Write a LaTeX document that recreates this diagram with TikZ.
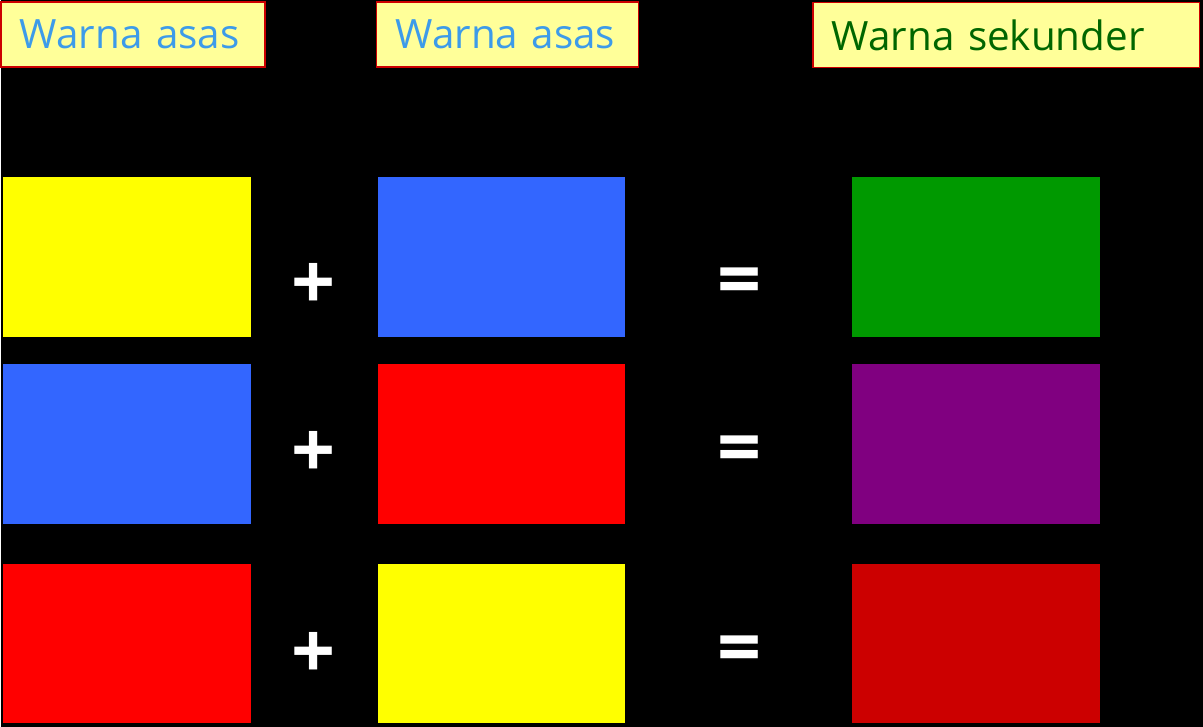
\documentclass[tikz,border=0pt]{standalone}
\usepackage{fontspec}
\setmainfont{Open Sans}
\usepackage{xcolor}
\definecolor{kuning}{HTML}{FFFF00}
\definecolor{biru}{HTML}{3366FF}
\definecolor{merah}{HTML}{FF0000}
\definecolor{hijau}{HTML}{009900}
\definecolor{ungu}{HTML}{800080}
\definecolor{merahtua}{HTML}{CC0000}
\definecolor{labelisi}{HTML}{FFFF99}
\definecolor{labelbiru}{HTML}{3D9BE9}
\definecolor{labelhijau}{HTML}{006600}
\tikzset{
  tajuk/.style={fill=labelisi, draw=merahtua, line width=1pt, inner xsep=0.38cm,
    minimum height=1.3cm, align=left, font=\fontsize{23}{26}\selectfont},
  kotak/.style={minimum width=4.96cm, minimum height=3.2cm, inner sep=0pt},
  simbol/.style={text=white, inner sep=0pt, font=\fontsize{44}{46}\bfseries\selectfont}
}
\begin{document}
\begin{tikzpicture}[x=0.02cm,y=-0.02cm]
            \fill[black] (0,0) rectangle (1203,727);
            \node[tajuk, text=labelbiru, text width=4.52cm] (t1) at (132,34.5) {Warna asas};
            \node[tajuk, text=labelbiru, text width=4.48cm] (t2) at (507,34.5) {Warna asas};
            \node[tajuk, text=labelhijau, text width=6.98cm] (t3) at (1006,35) {Warna sekunder};
            \node[kotak, fill=kuning] (a1) at (126,257) {};
            \node[kotak, fill=biru] (b1) at (501,257) {};
            \node[kotak, fill=hijau] (c1) at (976,257) {};
            \node[kotak, fill=biru] (a2) at (126,444) {};
            \node[kotak, fill=merah] (b2) at (501,444) {};
            \node[kotak, fill=ungu] (c2) at (976,444) {};
            \node[kotak, fill=merah] (a3) at (126,644) {};
            \node[kotak, fill=kuning] (b3) at (501,644) {};
            \node[kotak, fill=merahtua] (c3) at (976,644) {};
            % tanda tambah dan sama dengan
            \foreach \y/\n in {287/1,455/2,656/3} {
              \node[simbol] (tambah\n) at (313,\y) {+};
              \node[simbol] (sama\n) at (739,\y) {=};
            }
        \end{tikzpicture}
\end{document}
